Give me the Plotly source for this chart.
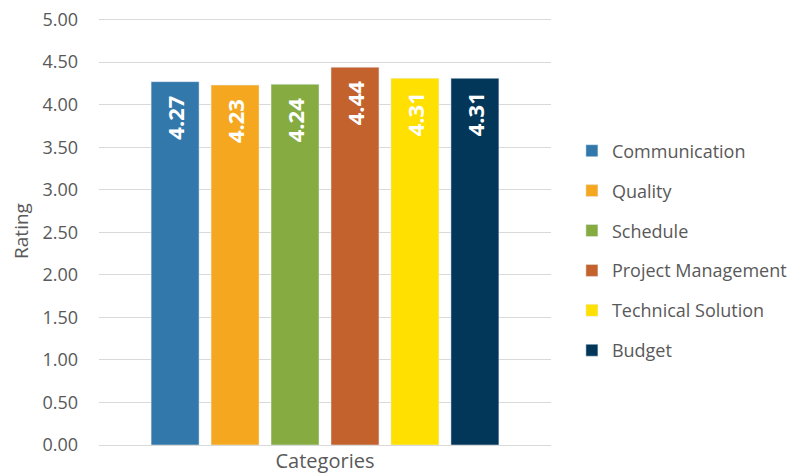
import plotly.graph_objects as go

categories = ["Communication", "Quality", "Schedule", "Project Management", "Technical Solution", "Budget"]
ratings = [4.27, 4.23, 4.24, 4.44, 4.31, 4.31]
colors = ["#3278AB", "#F5A81F", "#86AC41", "#C4622D", "#FFE000", "#03375A"]
y_ticks = [0, 0.5, 1, 1.5, 2, 2.5, 3, 3.5, 4, 4.5, 5]

FONT = "Open Sans"
fig = go.Figure()
for i, (name, val, col) in enumerate(zip(categories, ratings, colors)):
    fig.add_trace(go.Bar(
        x=["Categories"], y=[val], name=name, marker_color=col,
        text=[f"{val:.2f}"], textposition="inside", insidetextanchor="end",
        textangle=-90, textfont=dict(color="white", size=22, family=FONT),
        texttemplate="<b>%{text}</b>\u2002", legendgroup=str(i), cliponaxis=False,
    ))

fig.update_layout(
    width=801, height=474,
    margin=dict(l=99, r=250, t=17, b=29, pad=0, autoexpand=False),
    paper_bgcolor="white", plot_bgcolor="white",
    barmode="group", bargap=0.204, bargroupgap=0.2,
    font=dict(family=FONT, color="#595959", size=18),
    showlegend=True,
    legend=dict(x=0.714, y=0.4715, xanchor="left", yanchor="middle",
                xref="container", yref="container",
                font=dict(size=18, color="#595959"), tracegroupgap=13.5,
                itemwidth=30),
    uniformtext=dict(minsize=10, mode="show"),
)
fig.update_yaxes(range=[0, 5.03], tickvals=y_ticks, tickformat=".2f", automargin=False,
                 showgrid=True, gridcolor="#D9D9D9", gridwidth=1,
                 zeroline=False, showline=False, ticks="", ticklabelstandoff=20,
                 title=dict(text="Rating", font=dict(size=19, color="#595959"), standoff=8),
                 tickfont=dict(size=18, color="#595959"))
fig.update_xaxes(showticklabels=False, showline=True, linecolor="#D9D9D9", linewidth=1,
                 automargin=False, ticks="",
                 title=dict(text="Categories", font=dict(size=20, color="#595959"), standoff=12))

fig.write_html("out.html", config={"displayModeBar": False},
               post_script="document.body.style.margin='0';document.body.style.overflow='hidden';")
